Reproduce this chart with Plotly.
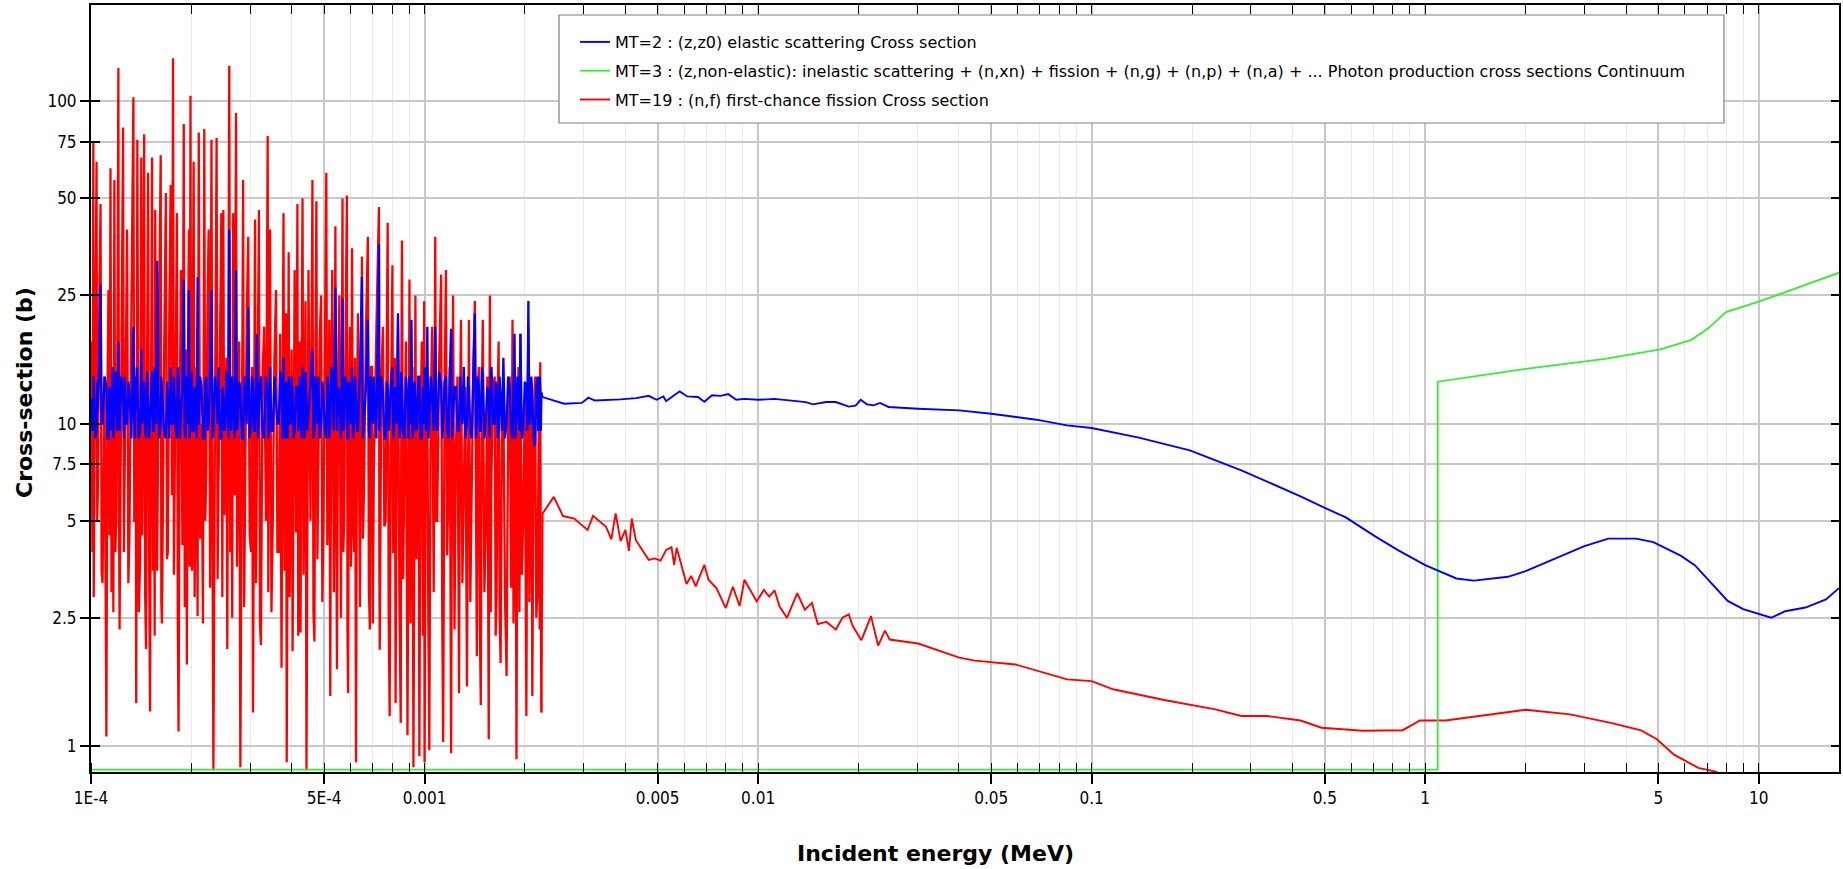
import plotly.graph_objects as go
import math

# ---------------- DATA ----------------
# Resolved-resonance region (MeV): main extrema of the resonances
res_E = [1.003e-4, 1.016e-4, 1.019e-4, 1.039e-4, 1.048e-4, 1.068e-4, 1.083e-4, 1.112e-4, 1.128e-4, 1.144e-4,
         1.159e-4, 1.175e-4, 1.191e-4, 1.208e-4, 1.218e-4, 1.248e-4, 1.262e-4, 1.283e-4, 1.304e-4, 1.340e-4,
         1.355e-4, 1.366e-4, 1.377e-4, 1.404e-4, 1.415e-4, 1.431e-4, 1.443e-4, 1.462e-4, 1.483e-4, 1.503e-4,
         1.524e-4, 1.545e-4, 1.558e-4, 1.579e-4, 1.618e-4, 1.632e-4, 1.677e-4, 1.700e-4, 1.733e-4, 1.762e-4,
         1.781e-4, 1.810e-4, 1.830e-4, 1.861e-4, 1.897e-4, 1.923e-4, 1.938e-4, 1.965e-4, 1.987e-4, 2.009e-4,
         2.031e-4, 2.059e-4, 2.087e-4, 2.104e-4, 2.145e-4, 2.186e-4, 2.216e-4, 2.253e-4, 2.297e-4, 2.328e-4,
         2.380e-4, 2.412e-4, 2.459e-4, 2.493e-4, 2.527e-4, 2.562e-4, 2.597e-4, 2.633e-4, 2.669e-4, 2.721e-4,
         2.758e-4, 2.804e-4, 2.858e-4, 2.897e-4, 2.961e-4, 3.019e-4, 3.060e-4, 3.102e-4, 3.145e-4, 3.188e-4,
         3.232e-4, 3.304e-4, 3.386e-4, 3.414e-4, 3.442e-4, 3.508e-4, 3.586e-4, 3.655e-4, 3.726e-4, 3.777e-4,
         3.829e-4, 3.861e-4, 3.914e-4, 3.968e-4, 4.022e-4, 4.078e-4, 4.157e-4, 4.202e-4, 4.249e-4, 4.307e-4,
         4.366e-4, 4.426e-4, 4.487e-4, 4.612e-4, 4.675e-4, 4.739e-4, 4.804e-4, 4.897e-4, 4.978e-4, 5.075e-4,
         5.144e-4, 5.215e-4, 5.287e-4, 5.404e-4, 5.463e-4, 5.554e-4, 5.676e-4, 5.739e-4, 5.850e-4, 5.898e-4,
         5.979e-4, 6.062e-4, 6.145e-4, 6.230e-4, 6.315e-4, 6.490e-4, 6.580e-4, 6.762e-4, 6.855e-4, 6.949e-4,
         7.045e-4, 7.300e-4, 7.340e-4, 7.502e-4, 7.647e-4, 7.753e-4, 7.859e-4, 8.011e-4, 8.099e-4, 8.188e-4,
         8.324e-4, 8.485e-4, 8.555e-4, 8.696e-4, 8.888e-4, 9.011e-4, 9.135e-4, 9.260e-4, 9.388e-4, 9.517e-4,
         9.648e-4, 9.811e-4, 9.973e-4, 1.0000e-3, 1.0193e-3, 1.0333e-3, 1.0533e-3, 1.0766e-3, 1.0914e-3, 1.1216e-3,
         1.1371e-3, 1.1591e-3, 1.1783e-3, 1.2011e-3, 1.2177e-3, 1.2412e-3, 1.2687e-3, 1.2861e-3, 1.3110e-3, 1.3399e-3,
         1.3584e-3, 1.3846e-3, 1.4152e-3, 1.4347e-3, 1.4545e-3, 1.4745e-3, 1.4948e-3, 1.5279e-3, 1.5575e-3, 1.5703e-3,
         1.5875e-3, 1.6227e-3, 1.6450e-3, 1.6676e-3, 1.6906e-3, 1.7232e-3, 1.7615e-3, 1.8004e-3, 1.8352e-3, 1.8605e-3,
         1.8860e-3, 1.9120e-3, 1.9384e-3, 1.9759e-3, 2.0196e-3, 2.0474e-3, 2.0755e-3, 2.1040e-3, 2.1447e-3, 2.1802e-3,
         2.2043e-3, 2.2224e-3, 2.2407e-3]

res_elastic = [12, 10, 14, 9.5, 11, 27, 10, 13, 9, 12, 15, 10, 13, 18, 9.5, 12, 14, 10, 12.5, 20,
               9, 11, 13, 9.5, 17, 11, 13, 9, 12, 10, 14.5, 9.5, 12, 32, 10, 13, 9, 12, 15, 10,
               12, 9, 14, 10.5, 28, 9, 12, 26, 10, 13, 9.5, 12, 28.5, 10, 13, 9, 14, 10, 26, 9.5,
               12, 15, 9, 12, 10, 13.5, 40, 9.5, 12, 30, 10, 13, 9, 12, 23, 10, 13, 9.5, 19, 11,
               14, 9, 12.5, 10, 15, 9.5, 12, 10, 13, 16, 9, 12, 14, 10, 12, 9.5, 13, 10, 12, 15,
               9, 12, 10.5, 17, 9.5, 12, 14, 10, 12, 9, 13, 10, 14.5, 26.5, 9.5, 12, 24.5, 10, 13, 9,
               12, 15, 10, 12.5, 9.5, 28.5, 10, 21, 9, 12, 14, 36, 10, 12.5, 9, 13, 10.5, 15, 9.5, 12,
               22, 10, 13, 9, 12, 14, 21, 9.5, 12, 10, 14, 9, 12, 15, 20, 10, 12.5, 20, 9.5, 13,
               10, 14, 9, 19.7, 11, 13, 9.5, 12, 15, 10, 12.5, 9, 22, 10, 13, 9.5, 14, 10.5, 12, 9,
               15, 10, 13, 9.5, 12, 16, 10, 13, 9, 19, 10.5, 12, 19, 9.5, 13, 24, 10, 12.5, 8.5, 14,
               10, 13, 12.5]

res_fission = [18, 75, 2.9, 65, 6, 48, 3.2, 1.07, 26, 62, 9, 57, 5, 127, 2.3, 83, 7, 40, 4.5, 103,
               5, 1.36, 76, 3.8, 67, 8, 79, 2.0, 60, 1.28, 67, 9, 46, 3.5, 68, 2.4, 52, 4, 55, 136,
               6, 45, 1.11, 30, 85, 5, 1.79, 40, 104, 3.5, 65, 6, 2.53, 80, 10, 82, 7, 40, 76, 0.84,
               77, 6, 45, 46, 8, 2.0, 129, 10, 45, 92, 7, 0.86, 57, 6, 38, 4, 1.27, 43, 8, 46,
               2.06, 20, 78, 6, 40, 5, 26, 4, 1.75, 45, 8, 0.89, 34, 6, 1.97, 30, 48, 4, 2.25, 50,
               7, 0.84, 30, 57, 2.11, 49, 8, 25, 5, 60, 6, 1.43, 30, 41, 1.73, 25, 50, 5, 51, 1.46,
               20, 35, 4, 0.89, 22, 33, 6, 38, 2.3, 15, 7, 47, 1.99, 20, 5, 42, 1.24, 31, 4, 1.36,
               20, 1.18, 37, 6, 1.08, 28, 5, 0.86, 25, 7, 0.93, 18, 24, 0.89, 14, 0.97, 20, 38, 5, 29,
               1.03, 30, 6, 0.95, 25, 8, 1.46, 21, 6, 1.53, 21, 7, 24, 1.9, 15, 1.34, 21, 5, 1.05, 25,
               7, 14, 3, 18, 1.81, 12, 1.65, 14, 21, 4, 0.91, 15, 19, 5, 1.24, 20, 6, 1.43, 14, 3,
               13, 15.5, 1.27]

# Resonance region: the finer swings that fill the dense band between the extrema above
fine_E = [1.010e-4, 1.018e-4, 1.029e-4, 1.044e-4, 1.058e-4, 1.076e-4, 1.098e-4, 1.120e-4, 1.136e-4, 1.152e-4,
          1.167e-4, 1.183e-4, 1.200e-4, 1.213e-4, 1.233e-4, 1.255e-4, 1.273e-4, 1.294e-4, 1.322e-4, 1.348e-4,
          1.361e-4, 1.372e-4, 1.391e-4, 1.410e-4, 1.423e-4, 1.437e-4, 1.453e-4, 1.473e-4, 1.493e-4, 1.514e-4,
          1.535e-4, 1.552e-4, 1.569e-4, 1.599e-4, 1.625e-4, 1.655e-4, 1.689e-4, 1.717e-4, 1.748e-4, 1.772e-4,
          1.796e-4, 1.820e-4, 1.846e-4, 1.879e-4, 1.910e-4, 1.931e-4, 1.952e-4, 1.976e-4, 1.998e-4, 2.020e-4,
          2.045e-4, 2.073e-4, 2.096e-4, 2.125e-4, 2.166e-4, 2.201e-4, 2.235e-4, 2.275e-4, 2.313e-4, 2.354e-4,
          2.396e-4, 2.436e-4, 2.476e-4, 2.510e-4, 2.545e-4, 2.580e-4, 2.615e-4, 2.651e-4, 2.695e-4, 2.740e-4,
          2.781e-4, 2.831e-4, 2.878e-4, 2.929e-4, 2.990e-4, 3.040e-4, 3.081e-4, 3.124e-4, 3.167e-4, 3.210e-4,
          3.268e-4, 3.345e-4, 3.400e-4, 3.428e-4, 3.475e-4, 3.547e-4, 3.621e-4, 3.691e-4, 3.752e-4, 3.803e-4,
          3.845e-4, 3.888e-4, 3.941e-4, 3.995e-4, 4.050e-4, 4.118e-4, 4.180e-4, 4.226e-4, 4.278e-4, 4.337e-4,
          4.396e-4, 4.457e-4, 4.550e-4, 4.644e-4, 4.707e-4, 4.772e-4, 4.851e-4, 4.938e-4, 5.027e-4, 5.110e-4,
          5.180e-4, 5.251e-4, 5.346e-4, 5.434e-4, 5.509e-4, 5.615e-4, 5.708e-4, 5.795e-4, 5.874e-4, 5.939e-4,
          6.021e-4, 6.104e-4, 6.188e-4, 6.273e-4, 6.403e-4, 6.535e-4, 6.671e-4, 6.809e-4, 6.902e-4, 6.997e-4,
          7.173e-4, 7.320e-4, 7.421e-4, 7.575e-4, 7.700e-4, 7.806e-4, 7.935e-4, 8.055e-4, 8.144e-4, 8.256e-4,
          8.405e-4, 8.520e-4, 8.626e-4, 8.792e-4, 8.950e-4, 9.073e-4, 9.198e-4, 9.324e-4, 9.453e-4, 9.583e-4,
          9.730e-4, 9.892e-4, 9.987e-4, 1.0097e-3, 1.0263e-3, 1.0433e-3, 1.0650e-3, 1.0840e-3, 1.1065e-3, 1.1294e-3,
          1.1481e-3, 1.1687e-3, 1.1897e-3, 1.2094e-3, 1.2295e-3, 1.2550e-3, 1.2774e-3, 1.2986e-3, 1.3255e-3, 1.3492e-3,
          1.3715e-3, 1.3999e-3, 1.4250e-3, 1.4446e-3, 1.4645e-3, 1.4847e-3, 1.5114e-3, 1.5427e-3, 1.5639e-3, 1.5789e-3,
          1.6051e-3, 1.6339e-3, 1.6563e-3, 1.6791e-3, 1.7069e-3, 1.7424e-3, 1.7810e-3, 1.8178e-3, 1.8479e-3, 1.8733e-3,
          1.8990e-3, 1.9252e-3, 1.9572e-3, 1.9978e-3, 2.0335e-3, 2.0615e-3, 2.0898e-3, 2.1244e-3, 2.1625e-3, 2.1923e-3,
          2.2134e-3, 2.2316e-3]

fine_elastic = [9.5, 14, 9, 13.5, 15, 10, 14, 9, 13, 9.5, 9, 14.5, 9.5, 10, 14, 9, 10, 13.5, 9, 10.5,
                14, 15, 9, 14, 10, 13.5, 9.5, 14.5, 9, 13, 9.5, 15, 10, 9, 14, 9.5, 13.5, 9, 10, 14,
                9.5, 15, 9, 13, 9.5, 14, 10, 9, 14.5, 9.5, 13, 9, 10, 14, 9, 13.5, 9.5, 15, 9, 14,
                10, 9, 13, 9.5, 14.5, 9, 10, 14, 9, 9.5, 13.5, 9, 14, 10, 9, 14, 9.5, 15, 9, 13.5,
                9.5, 14, 9, 13, 9.5, 14, 10, 14.5, 9, 9.5, 13.5, 9, 10, 14, 9, 13, 9.5, 14, 9, 10,
                14.5, 9.5, 13, 9, 14, 10, 9, 13.5, 9.5, 14, 9, 15, 9.5, 10, 13, 9, 9.5, 14, 9, 13.5,
                10, 9, 14, 9.5, 14.5, 9, 13, 9.5, 14, 10, 9, 9.5, 14, 9, 13.5, 9.5, 14, 9, 13, 10,
                9, 14.5, 9.5, 14, 9, 10, 9, 13.5, 9.5, 14, 9, 13, 10, 9.5, 9, 14, 9.5, 10, 14.5, 9,
                13.5, 9.5, 14, 9, 13, 9.5, 14, 10, 9, 14, 9.5, 13.5, 9, 14, 9.5, 15, 9, 13, 9.5, 14,
                10, 13.5, 9, 14, 9.5, 9, 14, 9.5, 13, 9, 14, 9.5, 9, 13.5, 9.5, 10, 14, 9, 13, 9.5,
                14, 9.5]

fine_fission = [4, 3.2, 16, 5, 22, 3.5, 14, 12, 4.5, 3, 2.6, 4, 18, 6, 15, 4, 20, 3.2, 24, 5,
                14, 11, 2.6, 19, 4.5, 25, 3, 16, 4, 13, 3.5, 2.2, 5, 21, 2.8, 15, 3.8, 22, 6, 3.4,
                18, 2.5, 12, 4.2, 2.7, 17, 14, 3.6, 5.5, 20, 2.9, 15, 13, 4.4, 2.4, 5, 23, 3.1, 4.8, 11,
                3.3, 19, 2.9, 5.2, 16, 14, 4, 2.5, 6, 3.6, 18, 12, 2.7, 21, 4.5, 15, 13, 3.2, 17, 2.4,
                14, 5, 3, 20, 2.6, 16, 4, 19, 12, 3.5, 22, 11, 2.9, 17, 13, 4.6, 2.2, 18, 15, 3.4,
                24, 12, 5, 2.6, 16, 3.8, 19, 2.8, 17, 4.2, 21, 13, 3, 5.5, 14, 2.5, 4, 18, 2.3, 12,
                3.6, 5, 16, 11, 2.7, 4.4, 19, 3.1, 15, 2.4, 20, 3.5, 14, 4.8, 17, 2.6, 12, 4, 16, 11,
                2.9, 13, 3.3, 18, 10, 2.4, 15, 9, 3.8, 14, 10, 2.2, 4.5, 12, 2.5, 11, 3, 5, 16, 2.7,
                12, 3.9, 15, 10, 2.3, 14, 11, 3.2, 13, 12, 2.8, 15, 3.5, 13, 2.4, 11, 3, 14, 10, 2.6,
                13, 2.2, 12, 2.5, 11, 2.9, 10, 3.1, 2.4, 13, 9, 2.6, 3.4, 12, 10, 2.8, 12, 9, 2.5, 11,
                2.3, 3]

# Smooth region above the resonances
el_E = [0.00226, 0.00262, 0.00296, 0.0031, 0.00324, 0.00387, 0.00431, 0.0047, 0.00496, 0.0052,
        0.0053, 0.00582, 0.00613, 0.0066, 0.0069, 0.00727, 0.00772, 0.00814, 0.0086, 0.0091,
        0.01, 0.0112, 0.0127, 0.0139, 0.0146, 0.016, 0.0171, 0.0187, 0.0196, 0.0203,
        0.0212, 0.0222, 0.0232, 0.0246, 0.0302, 0.0401, 0.05, 0.0683, 0.0844, 0.1,
        0.1385, 0.197, 0.281, 0.423, 0.5, 0.578, 0.708, 0.826, 1.0, 1.1,
        1.24, 1.40, 1.77, 2.0, 2.54, 3.0, 3.54, 4.29, 4.83, 5.85,
        6.43, 8.07, 8.98, 10.9, 12.0, 13.8, 15.9, 17.4]
el_xs = [12.09, 11.53, 11.6, 12.04, 11.8, 11.9, 12.0, 12.2, 11.86, 12.15,
         11.75, 12.6, 12.15, 12.1, 11.7, 12.25, 12.2, 12.35, 11.87, 11.94,
         11.86, 11.94, 11.8, 11.67, 11.48, 11.67, 11.67, 11.3, 11.37, 11.86,
         11.48, 11.4, 11.6, 11.27, 11.13, 11.0, 10.74, 10.29, 9.88, 9.70,
         9.05, 8.27, 7.17, 5.95, 5.48, 5.12, 4.47, 4.06, 3.64, 3.49,
         3.31, 3.26, 3.35, 3.49, 3.87, 4.17, 4.40, 4.40, 4.29, 3.89,
         3.64, 2.82, 2.66, 2.50, 2.62, 2.69, 2.85, 3.09]

fi_E = [0.00226, 0.00244, 0.0026, 0.00281, 0.00308, 0.0032, 0.0035, 0.00363, 0.00374, 0.00387,
        0.0040, 0.0041, 0.00418, 0.0043, 0.0047, 0.0049, 0.0051, 0.0053, 0.0055, 0.0056,
        0.0057, 0.0061, 0.0063, 0.0065, 0.0069, 0.0071, 0.0075, 0.0080, 0.0084, 0.0088,
        0.0091, 0.0099, 0.0104, 0.0108, 0.0112, 0.0116, 0.0122, 0.0131, 0.0138, 0.0145,
        0.0151, 0.0160, 0.0171, 0.0179, 0.0187, 0.0192, 0.0204, 0.0218, 0.0229, 0.0240,
        0.0248, 0.0302, 0.0401, 0.0446, 0.0592, 0.0844, 0.1, 0.116, 0.165, 0.235,
        0.281, 0.335, 0.423, 0.489, 0.651, 0.856, 0.965, 1.15, 2.0, 2.72,
        3.63, 4.44, 4.95, 5.57, 6.59, 7.42, 8.5, 10.0, 17.4]
fi_xs = [5.27, 5.93, 5.17, 5.08, 4.68, 5.18, 4.79, 4.38, 5.27, 4.32,
         4.68, 4.03, 5.08, 4.35, 3.78, 3.82, 3.76, 4.06, 4.14, 3.65,
         4.12, 3.18, 3.37, 3.13, 3.65, 3.28, 3.09, 2.68, 3.12, 2.72,
         3.28, 2.81, 3.05, 2.91, 3.04, 2.71, 2.50, 2.98, 2.65, 2.78,
         2.39, 2.43, 2.30, 2.50, 2.56, 2.36, 2.13, 2.53, 2.05, 2.28,
         2.14, 2.08, 1.88, 1.84, 1.79, 1.61, 1.59, 1.50, 1.39, 1.30,
         1.24, 1.24, 1.20, 1.14, 1.115, 1.12, 1.20, 1.20, 1.296, 1.254,
         1.178, 1.118, 1.05, 0.94, 0.856, 0.833, 0.78, 0.72, 0.6]

# MT=3 (non-elastic): sits on the axis floor below threshold, then the continuum
ne_E = [1e-4, 1.09, 1.09, 2.0, 3.46, 5.07, 6.28, 7.07, 7.97, 10.0, 17.4]
ne_xs = [0.845, 0.845, 13.5, 14.8, 15.9, 17.0, 18.2, 19.8, 22.2, 23.9, 29.4]

x_tickvals = [1e-4, 5e-4, 1e-3, 5e-3, 0.01, 0.05, 0.1, 0.5, 1, 5, 10]
x_ticktext = ["1E-4", "5E-4", "0.001", "0.005", "0.01", "0.05", "0.1", "0.5", "1", "5", "10"]
y_tickvals = [1, 2.5, 5, 7.5, 10, 25, 50, 75, 100]
y_ticktext = ["1", "2.5", "5", "7.5", "10", "25", "50", "75", "100"]

names = ["MT=2 : (z,z0) elastic scattering Cross section",
         "MT=3 : (z,non-elastic): inelastic scattering + (n,xn) + fission + (n,g) + (n,p) + (n,a) + ... Photon production cross sections Continuum",
         "MT=19 : (n,f) first-chance fission Cross section"]

x_range = [-4, math.log10(17.4)]
y_range = [-0.0805, math.log10(199)]

minor_x = [m * 10.0 ** k for k in range(-4, 2) for m in range(1, 10)]

RED, GREEN, BLUE = "#ff0000", "#33ee33", "#0000ff"

# merge the resonance extrema with the finer swings, in energy order
res_el = sorted(zip(res_E + fine_E, res_elastic + fine_elastic))
res_fi = sorted(zip(res_E + fine_E, res_fission + fine_fission))
rel_x, rel_y = [p[0] for p in res_el], [p[1] for p in res_el]
rfi_x, rfi_y = [p[0] for p in res_fi], [p[1] for p in res_fi]

# ---------------- FIGURE ----------------
fig = go.Figure()
fig.add_trace(go.Scatter(x=rfi_x, y=rfi_y, mode="lines",
                         line=dict(color=RED, width=2.3), name=names[2],
                         legendrank=3, legendgroup="c", showlegend=False))
fig.add_trace(go.Scatter(x=rfi_x[-1:] + fi_E, y=rfi_y[-1:] + fi_xs, mode="lines",
                         line=dict(color=RED, width=1.9), name=names[2],
                         legendrank=3, legendgroup="c"))
fig.add_trace(go.Scatter(x=ne_E, y=ne_xs, mode="lines",
                         line=dict(color=GREEN, width=1.8), name=names[1],
                         legendrank=2, legendgroup="b"))
fig.add_trace(go.Scatter(x=rel_x, y=rel_y, mode="lines",
                         line=dict(color=BLUE, width=2.3), name=names[0],
                         legendrank=1, legendgroup="a", showlegend=False))
fig.add_trace(go.Scatter(x=rel_x[-1:] + el_E, y=rel_y[-1:] + el_xs, mode="lines",
                         line=dict(color=BLUE, width=1.9), name=names[0],
                         legendrank=1, legendgroup="a"))
# carrier for the top / right frame axes
fig.add_trace(go.Scatter(x=[res_E[0]], y=[res_elastic[0]], xaxis="x2", yaxis="y2",
                         mode="markers", marker=dict(opacity=0), showlegend=False,
                         hoverinfo="skip"))

tick_font = dict(family="Liberation Sans Narrow, Arial Narrow, DejaVu Sans Condensed, sans-serif",
                 size=17, color="#000000")
title_font = dict(family="DejaVu Sans, Verdana, sans-serif", size=22, color="black")

LX0, LX1, LY0, LY1 = 559, 1724, 15, 123
PL, PR, PT, PB = 91, 1839, 5, 772
PW, PH = PR - PL, PB - PT

fig.update_layout(
    width=1843, height=869,
    margin=dict(l=PL, r=1843 - PR, t=PT, b=869 - PB),
    paper_bgcolor="white", plot_bgcolor="white",
    showlegend=True,
    legend=dict(x=(LX0 - PL) / PW, y=1 - (LY0 + 10 - PT) / PH, xanchor="left", yanchor="top",
                bgcolor="rgba(0,0,0,0)", borderwidth=0, indentation=16,
                font=dict(family="DejaVu Sans, sans-serif", size=16, color="#000000"),
                traceorder="grouped", tracegroupgap=5),
    shapes=[dict(type="rect", xref="paper", yref="paper", layer="above",
                 x0=(LX0 - PL) / PW, x1=(LX1 - PL) / PW,
                 y0=1 - (LY1 - PT) / PH, y1=1 - (LY0 - PT) / PH,
                 fillcolor="white", line=dict(color="#7f7f7f", width=1.2))],
    xaxis=dict(type="log", range=x_range, tickmode="array", tickvals=x_tickvals, ticktext=x_ticktext,
               ticks="outside", ticklen=10, tickwidth=1.5, tickcolor="black",
               showline=True, linecolor="black", linewidth=2,
               showgrid=True, gridcolor="#c8c8c8", gridwidth=1.5, zeroline=False,
               tickfont=tick_font,
               minor=dict(tickmode="array", tickvals=minor_x, ticks="inside", ticklen=9,
                          tickwidth=1.3, tickcolor="black", showgrid=True,
                          gridcolor="#ebebeb", gridwidth=1)),
    xaxis2=dict(type="log", range=x_range, overlaying="x", side="top", anchor="y",
                tickmode="array", tickvals=minor_x, ticks="inside", ticklen=9, tickwidth=1.3,
                tickcolor="black", showticklabels=False, showline=True, linecolor="black",
                linewidth=2, showgrid=False, zeroline=False),
    yaxis=dict(type="log", range=y_range, tickmode="array", tickvals=y_tickvals, ticktext=y_ticktext,
               ticks="outside", ticklen=9, tickwidth=1.5, tickcolor="black",
               showline=True, linecolor="black", linewidth=2,
               showgrid=True, gridcolor="#c8c8c8", gridwidth=1.5, zeroline=False,
               tickfont=tick_font,
               minor=dict(tickmode="array", tickvals=y_tickvals, ticks="inside", ticklen=9,
                          tickwidth=1.5, tickcolor="black", showgrid=False)),
    yaxis2=dict(type="log", range=y_range, overlaying="y", side="right", anchor="x",
                tickmode="array", tickvals=y_tickvals, ticks="inside", ticklen=8, tickwidth=1.5,
                tickcolor="black", showticklabels=False, showline=True, linecolor="black",
                linewidth=2, showgrid=False, zeroline=False),
    annotations=[
        dict(text="<b>Incident energy (MeV)</b>", xref="paper", yref="paper",
             x=(935 - PL) / PW, y=-(853 - PB) / PH, xanchor="center", yanchor="middle",
             showarrow=False, font=title_font),
        dict(text="<b>Cross-section (b)</b>", xref="paper", yref="paper",
             x=(24 - PL) / PW, y=1 - (393 - PT) / PH, xanchor="center", yanchor="middle",
             textangle=-90, showarrow=False, font=title_font),
    ],
)

fig.write_html("out.html", config={"displayModeBar": False},
               post_script="document.body.style.margin='0';document.body.style.overflow='hidden';")
